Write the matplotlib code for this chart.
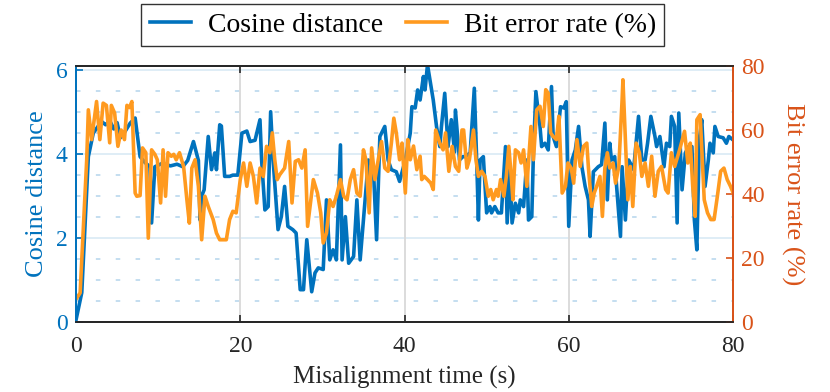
import matplotlib
matplotlib.use("Agg")
import matplotlib.pyplot as plt
import numpy as np

plt.rcParams.update({"font.family": ["Liberation Serif", "DejaVu Serif"],
                     "mathtext.fontset": "stix"})

BLUE = "#0072BD"
ORANGE = "#FF9A1F"
RED = "#D95319"

# cosine distance (left axis)
t_cos = [0.0, 0.7, 1.5, 2.1, 3.1, 3.6, 4.1, 4.6, 5.0, 5.4, 6.0, 6.6, 7.2, 7.8, 8.4, 9.0,
         9.2, 9.6, 10.5, 11.5, 12.3, 13.0, 13.6, 14.3, 14.9, 15.1, 15.3, 15.6, 16.1, 16.5,
         16.9, 17.1, 17.5, 17.7, 18.1, 18.7, 19.1, 19.7, 20.2, 20.8, 21.2, 21.8, 22.4, 22.6,
         23.0, 23.4, 23.7, 24.0, 24.6, 25.0, 25.4, 25.8, 26.4, 26.8, 27.3, 27.7, 28.1, 28.7,
         29.1, 29.5, 30.1, 30.5, 30.9, 31.3, 31.7, 32.2, 32.4, 32.8, 33.2, 33.8, 34.2, 34.6,
         35.0, 35.6, 36.2, 36.6, 37.0, 37.6, 38.0, 38.4, 39.0, 39.4, 40.1, 40.7, 40.9, 41.3,
         41.6, 41.9, 42.3, 42.5, 42.8, 43.1, 43.5, 43.9, 44.3, 44.5, 44.9, 45.3, 45.7, 46.1,
         46.2, 46.7, 47.1, 47.4, 48.0, 48.5, 48.8, 49.0, 49.2, 49.6, 50.0, 50.4, 50.6, 51.0,
         51.4, 51.8, 52.3, 52.5, 52.8, 53.1, 53.5, 53.9, 54.1, 54.5, 54.9, 55.1, 55.5, 55.7,
         56.0, 56.3, 56.5, 56.7, 57.1, 57.5, 57.9, 58.1, 58.5, 59.0, 59.4, 59.7, 60.0, 60.4,
         60.8, 61.2, 61.6, 62.0, 62.4, 62.6, 63.0, 63.6, 64.0, 64.4, 64.7, 65.0, 65.2, 65.6,
         65.8, 66.3, 66.5, 66.9, 67.3, 67.9, 68.5, 68.9, 69.3, 69.6, 70.0, 70.5, 70.7, 71.1,
         71.6, 71.9, 72.3, 72.5, 72.9, 73.2, 73.4, 73.8, 74.2, 74.6, 75.0, 75.3, 75.6, 75.9,
         76.2, 76.6, 77.0, 77.2, 77.6, 77.8, 78.2, 78.8, 79.2, 79.5, 80.0]
cos_dist = [0.05, 0.70, 3.94, 4.50, 4.78, 4.70, 4.80, 4.60, 4.75, 4.39, 4.55, 4.74, 4.86, 3.94,
            3.80, 3.70, 2.36, 3.70, 3.78, 3.72, 3.76, 3.70, 3.85, 4.30, 3.85, 2.43, 3.00,
            3.15, 4.42, 3.63, 4.03, 3.63, 4.70, 4.67, 3.47, 3.47, 3.50, 3.50, 4.50, 4.55, 4.30,
            4.33, 4.82, 3.86, 2.67, 2.75, 5.01, 3.86, 2.20, 2.51, 3.23, 2.28, 2.20, 2.12, 0.77,
            0.77, 1.96, 0.72, 1.17, 1.29, 1.25, 2.91, 1.48, 1.72, 1.48, 4.22, 1.48, 2.51, 1.40,
            1.56, 2.91, 1.48, 2.43, 3.86, 3.70, 1.96, 4.42, 4.66, 3.86, 3.63, 3.58, 3.35, 3.86,
            4.50, 5.13, 5.10, 5.53, 5.29, 5.85, 5.53, 6.13, 5.77, 5.29, 4.66, 4.18, 4.66, 5.45,
            4.18, 4.82, 4.05, 5.05, 3.86, 3.94, 3.94, 4.03, 5.57, 3.79, 2.43, 3.86, 3.94, 2.60,
            2.75, 2.60, 2.75, 2.60, 2.60, 4.18, 2.36, 3.70, 2.36, 2.83, 2.60, 2.91, 2.75, 3.86,
            2.43, 2.51, 4.03, 5.49, 4.98, 4.66, 4.18, 4.26, 4.10, 5.61, 4.42, 4.18, 5.13, 5.10,
            5.25, 2.28, 3.86, 4.10, 4.66, 3.70, 3.23, 2.91, 2.04, 3.58, 3.70, 3.75, 4.74, 2.91,
            4.26, 3.86, 3.94, 3.31, 2.04, 3.70, 2.43, 3.86, 3.63, 4.90, 3.86, 3.86, 4.26, 4.90,
            4.42, 4.18, 4.42, 3.70, 4.26, 4.18, 4.90, 4.66, 2.36, 4.98, 3.15, 4.03, 4.18, 4.18,
            2.43, 1.72, 4.34, 4.82, 3.23, 3.86, 4.26, 4.03, 4.66, 4.42, 4.39, 4.26, 4.42, 4.34]

# bit error rate in % (right axis)
t_ber = [0.1, 0.5, 1.3, 1.5, 1.9, 2.5, 2.9, 3.3, 3.7, 4.1, 4.3, 4.7, 5.1, 5.5, 5.9, 6.2, 6.5,
         6.8, 7.2, 7.4, 7.8, 8.1, 8.5, 8.8, 9.2, 9.6, 9.9, 10.3, 10.6, 10.9, 11.2, 11.6, 11.9,
         12.2, 12.6, 13.1, 13.5, 13.8, 14.1, 14.5, 14.9, 15.3, 15.7, 16.1, 16.7, 17.1, 17.5,
         17.9, 18.3, 18.7, 19.1, 19.5, 20.0, 20.4, 20.8, 21.2, 21.6, 22.0, 22.4, 22.8, 23.2,
         23.6, 23.9, 24.2, 24.5, 24.8, 25.4, 25.9, 26.3, 26.7, 27.1, 27.5, 27.9, 28.2, 28.5,
         28.9, 29.4, 29.8, 30.1, 30.5, 30.9, 31.3, 31.7, 32.2, 32.6, 33.0, 33.4, 33.8, 34.2,
         34.6, 35.0, 35.3, 35.7, 36.0, 36.4, 36.8, 37.2, 37.6, 38.0, 38.4, 38.7, 39.0, 39.4,
         39.7, 40.1, 40.4, 40.7, 41.1, 41.5, 41.9, 42.1, 42.4, 42.8, 43.2, 43.5, 43.8, 44.3,
         44.7, 45.0, 45.4, 45.8, 46.2, 46.6, 47.0, 47.2, 47.6, 47.9, 48.4, 48.7, 49.0, 49.4,
         49.8, 50.2, 50.5, 50.8, 51.2, 51.4, 51.7, 52.1, 52.4, 52.7, 53.0, 53.2, 53.5, 53.9,
         54.2, 54.5, 54.9, 55.4, 55.7, 56.1, 56.5, 56.9, 57.2, 57.5, 57.8, 58.1, 58.5, 58.8,
         59.2, 59.6, 59.9, 60.3, 60.6, 61.0, 61.4, 61.8, 62.2, 62.4, 62.8, 63.1, 63.4, 63.8,
         64.1, 64.4, 64.7, 65.0, 65.4, 65.7, 66.1, 66.5, 66.6, 66.9, 67.2, 67.5, 67.8, 68.2,
         68.6, 68.9, 69.3, 69.7, 70.1, 70.5, 70.9, 71.3, 71.8, 72.1, 72.5, 72.9, 73.5, 74.1,
         74.5, 74.8, 75.1, 75.4, 75.6, 76.0, 76.5, 76.9, 77.3, 77.7, 78.1, 78.5, 78.9, 79.3,
         79.7, 80.0]
ber = [7.5, 9.1, 50.7, 66.3, 57.0, 68.9, 57.0, 68.4, 67.7, 56.0, 67.7, 65.3, 54.9, 60.0, 57.0,
       67.7, 67.0, 68.9, 40.3, 39.3, 39.5, 54.4, 52.9, 26.2, 53.8, 52.4, 50.7, 37.2, 53.8,
       39.3, 52.9, 51.8, 52.4, 50.7, 52.9, 48.6, 38.2, 30.9, 48.1, 50.7, 42.4, 25.7, 39.3,
       36.1, 32.0, 27.8, 25.7, 25.7, 25.7, 32.0, 34.6, 34.1, 44.5, 49.7, 42.4, 49.7, 45.5,
       37.2, 48.1, 45.5, 54.9, 52.9, 59.1, 50.7, 44.5, 46.0, 48.1, 56.4, 37.2, 50.2, 50.7,
       48.1, 53.8, 29.9, 36.1, 44.5, 40.3, 34.1, 24.7, 27.8, 38.2, 36.1, 39.3, 44.5, 39.3,
       38.2, 44.5, 47.6, 40.3, 39.3, 53.8, 50.7, 34.1, 54.4, 44.5, 50.7, 56.4, 48.1, 47.1,
       55.9, 63.7, 59.1, 50.7, 55.9, 40.3, 57.0, 50.7, 55.0, 47.6, 51.8, 44.5, 45.5, 44.5,
       43.4, 41.4, 60.0, 55.9, 53.8, 59.1, 47.1, 54.9, 48.6, 47.1, 60.0, 60.0, 48.1, 50.7,
       60.0, 50.7, 45.5, 47.1, 45.5, 39.3, 41.4, 38.2, 41.4, 39.3, 44.5, 39.3, 45.5, 54.9,
       45.5, 38.2, 53.8, 52.9, 49.7, 53.8, 42.4, 61.1, 50.7, 66.3, 67.4, 61.1, 72.6, 71.5,
       59.1, 58.0, 57.0, 64.3, 40.3, 42.4, 49.7, 48.1, 43.4, 57.0, 48.6, 54.9, 55.9, 48.1,
       36.1, 40.3, 42.4, 45.5, 33.0, 48.1, 52.9, 48.1, 49.7, 43.4, 48.6, 69.5, 75.7, 57.0,
       38.2, 48.6, 36.1, 55.9, 52.9, 45.5, 49.7, 42.4, 51.8, 39.3, 47.1, 48.6, 41.4, 40.3,
       52.9, 48.6, 53.8, 59.6, 49.7, 55.9, 42.4, 33.0, 63.2, 64.8, 38.2, 34.1, 32.0, 32.0,
       39.3, 47.1, 48.1, 44.5, 42.4, 40.5]

fig = plt.figure(figsize=(8.3, 3.92), dpi=100)
ax = fig.add_axes([0.0916, 0.1786, 0.7915, 0.653])
ax2 = ax.twinx()

l1, = ax.plot(t_cos, cos_dist, color=BLUE, lw=2.6, label="Cosine distance")
l2, = ax2.plot(t_ber, ber, color=ORANGE, lw=2.6, label="Bit error rate (%)")

ax.set_xlim(0, 80)
ax.set_ylim(0, 6.1)
ax2.set_ylim(0, 80)
ax.set_xticks([0, 20, 40, 60, 80])
ax.set_yticks([0, 2, 4, 6])
ax2.set_yticks([0, 20, 40, 60, 80])

# grid: light blue horizontal lines from the left axis, gray vertical lines
for y in np.arange(0, 6.1, 2):
    ax.axhline(y, color=BLUE, alpha=0.15, lw=1.2, zorder=0)
for y in np.arange(0.5, 6.1, 0.5):
    if y % 2:
        ax.axhline(y, color=BLUE, alpha=0.25, lw=1.3, ls=(0, (2.5, 8.5)), zorder=0)
for x in (20, 40, 60):
    ax.axvline(x, color="#d9d9d9", lw=1.3, zorder=0)

ax.tick_params(axis="x", direction="in", top=True, length=5, width=1.2,
               labelsize=17, pad=10, colors="#262626")
ax.tick_params(axis="y", direction="in", length=5, width=1.2, labelsize=17,
               colors=BLUE, pad=6)
ax2.tick_params(axis="y", direction="in", length=5, width=1.2, labelsize=17,
                colors=RED, pad=6)

for a in (ax, ax2):
    a.spines["top"].set_color("#262626")
    a.spines["bottom"].set_color("#262626")
    a.spines["left"].set_color(BLUE)
    a.spines["right"].set_color(RED)
    for s in a.spines.values():
        s.set_linewidth(1.3)

ax.set_xlabel("Misalignment time (s)", fontsize=18, color="#262626", va="center")
ax.xaxis.set_label_coords(0.5, -0.215)
ax.set_ylabel("Cosine distance", fontsize=19, color=BLUE, va="center")
ax.yaxis.set_label_coords(-0.059, 0.5)
ax2.set_ylabel("Bit error rate (%)", fontsize=19, color=RED, rotation=-90,
               va="center")
ax2.yaxis.set_label_coords(1.091, 0.5)

leg = fig.legend(handles=[l1, l2], loc="upper center", ncol=2,
                 bbox_to_anchor=(0.4855, 0.99), borderaxespad=0, fontsize=20,
                 frameon=True, fancybox=False, edgecolor="black",
                 handlelength=1.5, columnspacing=0.8, handletextpad=0.6,
                 borderpad=0.3)
leg.get_frame().set_linewidth(1.0)

fig.savefig("out.png", dpi=100)
